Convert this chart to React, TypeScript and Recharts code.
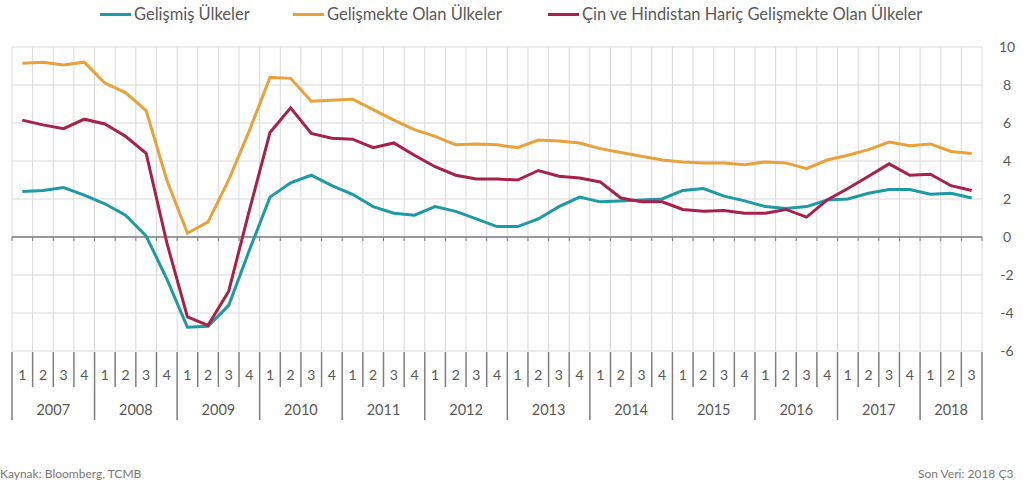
import { ComposedChart, Line, XAxis, YAxis, CartesianGrid, ReferenceLine } from "recharts";

const years = [2007, 2008, 2009, 2010, 2011, 2012, 2013, 2014, 2015, 2016, 2017, 2018];
const quartersPerYear = [4, 4, 4, 4, 4, 4, 4, 4, 4, 4, 4, 3];

const seriesNames = [
  "Gelişmiş Ülkeler",
  "Gelişmekte Olan Ülkeler",
  "Çin ve Hindistan Hariç Gelişmekte Olan Ülkeler",
];

// yıllık büyüme, çeyreklik (2007Ç1 - 2018Ç3)
const gelismis = [
  2.4, 2.45, 2.6, 2.2,
  1.75, 1.15, 0.05, -2.2,
  -4.75, -4.7, -3.6, -0.7,
  2.1, 2.85, 3.25, 2.7,
  2.25, 1.6, 1.25, 1.15,
  1.6, 1.35, 0.95, 0.55,
  0.55, 0.95, 1.6, 2.1,
  1.85, 1.9, 1.95, 2.0,
  2.45, 2.55, 2.15, 1.9,
  1.6, 1.5, 1.6, 1.95,
  2.0, 2.3, 2.5, 2.5,
  2.25, 2.3, 2.05,
];

const gelismekte = [
  9.15, 9.2, 9.05, 9.2,
  8.1, 7.6, 6.65, 3.0,
  0.2, 0.8, 3.0, 5.6,
  8.4, 8.35, 7.15, 7.2,
  7.25, 6.7, 6.15, 5.65,
  5.3, 4.85, 4.9, 4.85,
  4.7, 5.1, 5.05, 4.95,
  4.65, 4.45, 4.25, 4.05,
  3.95, 3.9, 3.9, 3.8,
  3.95, 3.9, 3.6, 4.05,
  4.3, 4.6, 5.0, 4.8,
  4.9, 4.5, 4.4,
];

const cinHindistanHaric = [
  6.15, 5.9, 5.7, 6.2,
  5.95, 5.3, 4.4, -0.3,
  -4.2, -4.65, -2.85, 1.4,
  5.5, 6.8, 5.45, 5.2,
  5.15, 4.7, 4.95, 4.3,
  3.7, 3.25, 3.05, 3.05,
  3.0, 3.5, 3.2, 3.1,
  2.9, 2.05, 1.85, 1.85,
  1.45, 1.35, 1.4, 1.25,
  1.25, 1.45, 1.05, 1.95,
  2.55, 3.2, 3.85, 3.25,
  3.3, 2.7, 2.45,
];

const yTicks = [-6, -4, -2, 0, 2, 4, 6, 8, 10];
const colors = ["#1e9aa4", "#e9a23b", "#a6224a"];

const rows: { key: string; year: number; q: number; n: number; g: number; e: number; c: number }[] = [];
years.forEach((year, yi) => {
  for (let q = 1; q <= quartersPerYear[yi]; q++) {
    const i = rows.length;
    rows.push({
      key: `${year}-${q}`,
      year,
      q,
      n: quartersPerYear[yi],
      g: gelismis[i],
      e: gelismekte[i],
      c: cinHindistanHaric[i],
    });
  }
});

const W = 1026;
const H = 440;
const LEFT = 12;
const RIGHT = 44;
const TOP = 47;
const AXIS_H = 89;
const PLOT_W = W - LEFT - RIGHT;
const PLOT_BOTTOM = H - AXIS_H;
const ZERO_Y = TOP + ((PLOT_BOTTOM - TOP) * 10) / 16;
const FONT = "Lato, 'Open Sans', sans-serif";
const AXIS_GRAY = "#7f7f7f";
const TEXT_GRAY = "#595959";

function QuarterTick(props: any) {
  const { x, payload } = props;
  const i = payload.index;
  const row = rows[i];
  const bw = PLOT_W / rows.length;
  const left = x - bw / 2;
  const last = i === rows.length - 1;
  return (
    <g>
      {/* küçük çentik sıfır çizgisinde */}
      <line x1={left} x2={left} y1={ZERO_Y} y2={ZERO_Y + 4} stroke={AXIS_GRAY} />
      {last && <line x1={x + bw / 2} x2={x + bw / 2} y1={ZERO_Y} y2={ZERO_Y + 4} stroke={AXIS_GRAY} />}
      <line
        x1={left}
        x2={left}
        y1={PLOT_BOTTOM + 1}
        y2={row.q === 1 ? PLOT_BOTTOM + 69 : PLOT_BOTTOM + 36}
        stroke={AXIS_GRAY}
        strokeWidth={1.5}
      />
      {last && (
        <line x1={x + bw / 2} x2={x + bw / 2} y1={PLOT_BOTTOM + 1} y2={PLOT_BOTTOM + 69} stroke={AXIS_GRAY} strokeWidth={1.5} />
      )}
      <text x={x} y={PLOT_BOTTOM + 29} textAnchor="middle" fontSize={14} fill={TEXT_GRAY} fontFamily={FONT}>
        {row.q}
      </text>
      {row.q === 1 && (
        <text x={left + (row.n * bw) / 2} y={PLOT_BOTTOM + 64} textAnchor="middle" fontSize={14.5} fill={TEXT_GRAY} fontFamily={FONT}>
          {row.year}
        </text>
      )}
    </g>
  );
}

function ValueTick(props: any) {
  const { y, payload } = props;
  return (
    <text x={1007} y={y + 5} textAnchor="middle" fontSize={14} fill={TEXT_GRAY} fontFamily={FONT}>
      {payload.value}
    </text>
  );
}

const legendOffsets = [100, 293, 548];

export default function App() {
  return (
    <div style={{ position: "absolute", left: 0, top: 0, width: W, height: 488, background: "#fff", fontFamily: FONT }}>
      {seriesNames.map((name, i) => (
        <div
          key={name}
          style={{ position: "absolute", top: 4, left: legendOffsets[i], display: "flex", alignItems: "center", whiteSpace: "nowrap" }}
        >
          <span style={{ display: "inline-block", width: 31, height: 3, background: colors[i], marginRight: 3 }} />
          <span style={{ fontSize: 16.5, color: TEXT_GRAY }}>{name}</span>
        </div>
      ))}
      <div style={{ position: "absolute", left: 0, top: 0 }}>
        <ComposedChart width={W} height={H} data={rows} margin={{ top: TOP, right: 0, left: LEFT, bottom: 0 }}>
          <CartesianGrid
            stroke="#d9d9d9"
            verticalCoordinatesGenerator={({ offset }: any) =>
              rows.map((_, i) => offset.left + (i * offset.width) / rows.length).concat(offset.left + offset.width)
            }
          />
          <XAxis dataKey="key" scale="band" interval={0} height={AXIS_H} axisLine={false} tickLine={false} tick={<QuarterTick />} />
          <YAxis
            orientation="right"
            width={RIGHT}
            domain={[-6, 10]}
            ticks={yTicks}
            axisLine={false}
            tickLine={false}
            tick={<ValueTick />}
          />
          <ReferenceLine y={0} stroke={AXIS_GRAY} strokeWidth={1.5} />
          <Line type="linear" dataKey="g" name={seriesNames[0]} stroke={colors[0]} strokeWidth={3} dot={false} isAnimationActive={false} />
          <Line type="linear" dataKey="e" name={seriesNames[1]} stroke={colors[1]} strokeWidth={3} dot={false} isAnimationActive={false} />
          <Line type="linear" dataKey="c" name={seriesNames[2]} stroke={colors[2]} strokeWidth={3} dot={false} isAnimationActive={false} />
        </ComposedChart>
      </div>
      <div style={{ position: "absolute", left: 0, top: 466, fontSize: 12, color: "#777" }}>Kaynak: Bloomberg, TCMB</div>
      <div style={{ position: "absolute", left: 918, top: 466, fontSize: 12, color: "#777", whiteSpace: "nowrap" }}>
        Son Veri: 2018 Ç3
      </div>
    </div>
  );
}
